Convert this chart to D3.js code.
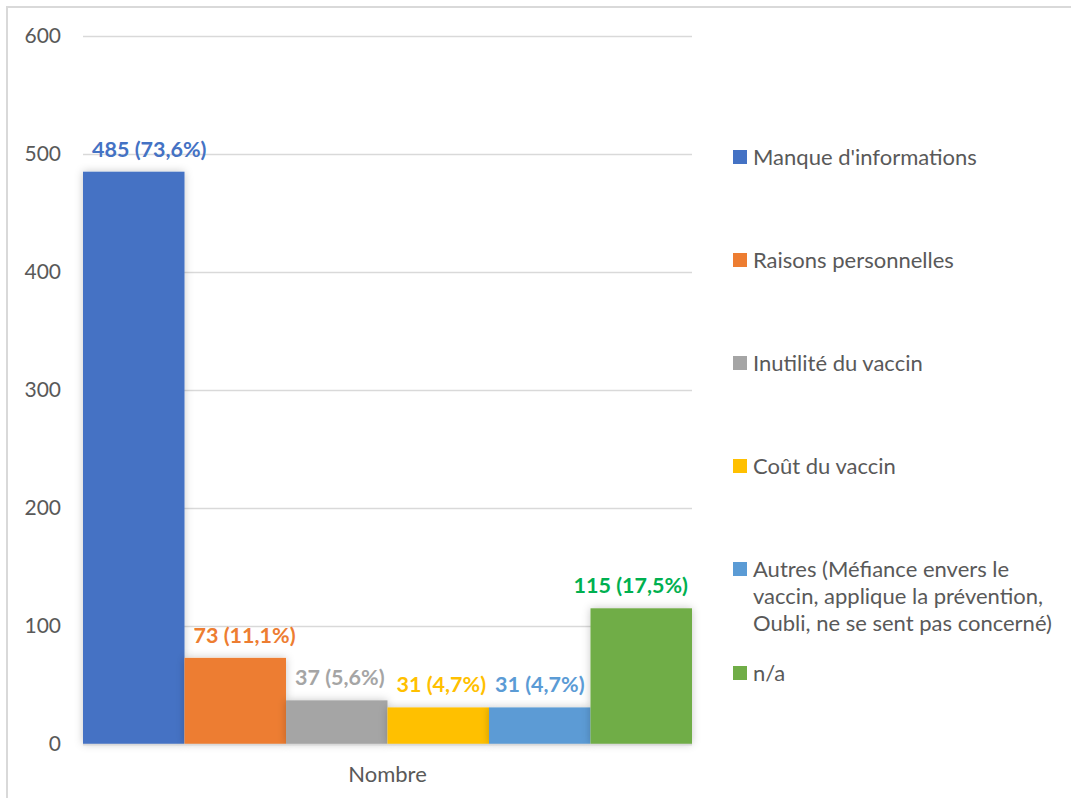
<!DOCTYPE html>
<html>
<head>
<meta charset="utf-8">
<script src="https://cdn.jsdelivr.net/npm/d3@7"></script>
<style>
  body { margin: 0; background: #fff; }
  text { font-family: Lato, "Open Sans", sans-serif; }
</style>
</head>
<body>
<div id="chart"></div>
<script>
var categories = ["Manque d'informations", "Raisons personnelles", "Inutilité du vaccin",
    "Coût du vaccin", "Autres (Méfiance envers le vaccin, applique la prévention, Oubli, ne se sent pas concerné)", "n/a"];
var values = [485, 73, 37, 31, 31, 115];
var percents = ["73,6%", "11,1%", "5,6%", "4,7%", "4,7%", "17,5%"];
var colors = ["#4472c4", "#ed7d31", "#a5a5a5", "#ffc000", "#5b9bd5", "#70ad47"];
var labelColors = ["#4472c4", "#ed7d31", "#a5a5a5", "#ffc000", "#5b9bd5", "#00b050"];
var legendLines = [["Manque d'informations"], ["Raisons personnelles"], ["Inutilité du vaccin"],
    ["Coût du vaccin"], ["Autres (Méfiance envers le", "vaccin, applique la prévention,", "Oubli, ne se sent pas concerné)"], ["n/a"]];
var yTicks = [0, 100, 200, 300, 400, 500, 600];
var groupLabel = "Nombre";

var W = 1071, H = 798;
var plot = {x0: 83, x1: 692, y0: 744, y1: 36};

var svg = d3.select("#chart").append("svg").attr("width", W).attr("height", H);

// outer border
svg.append("rect").attr("x", 7).attr("y", 7).attr("width", W + 10).attr("height", H + 10)
    .attr("fill", "none").attr("stroke", "#d9d9d9").attr("stroke-width", 2);

var defs = svg.append("defs");
var f = defs.append("filter").attr("id", "shadow").attr("x", "-20%").attr("y", "-20%").attr("width", "140%").attr("height", "140%");
f.append("feDropShadow").attr("dx", 0).attr("dy", 0).attr("stdDeviation", 4)
    .attr("flood-color", "#000").attr("flood-opacity", 0.22);

var y = d3.scaleLinear().domain([0, 600]).range([plot.y0, plot.y1]);
var x = d3.scaleBand().domain(categories).range([plot.x0, plot.x1]).padding(0);

// gridlines
svg.append("g").selectAll("line").data(yTicks).join("line")
    .attr("x1", plot.x0).attr("x2", plot.x1)
    .attr("y1", function(d) { return Math.round(y(d)) + 0.5; })
    .attr("y2", function(d) { return Math.round(y(d)) + 0.5; })
    .attr("stroke", "#d9d9d9").attr("stroke-width", 1.5);

// y axis labels
var yAxis = d3.axisLeft(y).tickValues(yTicks).tickSize(0).tickPadding(0);
var ya = svg.append("g").attr("transform", "translate(61,0)").call(yAxis);
ya.select(".domain").remove();
ya.selectAll("text").attr("font-size", 21).attr("fill", "#595959")
    .attr("font-family", "Lato, 'Open Sans', sans-serif");

// bars
svg.append("g").selectAll("rect").data(values).join("rect")
    .attr("x", function(d, i) { return x(categories[i]); })
    .attr("y", function(d) { return y(d); })
    .attr("width", x.bandwidth())
    .attr("height", function(d) { return plot.y0 - y(d); })
    .attr("fill", function(d, i) { return colors[i]; })
    .attr("filter", "url(#shadow)");

// axis line
svg.append("line").attr("x1", plot.x0).attr("x2", plot.x1).attr("y1", plot.y0 + 0.5).attr("y2", plot.y0 + 0.5)
    .attr("stroke", "#d9d9d9").attr("stroke-width", 1.5);

// data labels, kept clear of taller neighbours / plot edges
var labels = svg.append("g").selectAll("text").data(values).join("text")
    .attr("y", function(d) { return y(d) - 15; })
    .attr("font-size", 21.5).attr("font-weight", "bold")
    .attr("fill", function(d, i) { return labelColors[i]; })
    .attr("text-anchor", "middle")
    .text(function(d, i) { return d + " (" + percents[i] + ")"; });

labels.each(function(d, i) {
    var w = this.getComputedTextLength();
    var bx0 = x(categories[i]), bx1 = bx0 + x.bandwidth();
    var cx = bx0 + x.bandwidth() / 2;
    var leftBlocked = i === 0 || values[i - 1] > d;
    var rightBlocked = i === values.length - 1 || values[i + 1] > d;
    if (leftBlocked && cx - w / 2 < bx0 + 9) cx = bx0 + 9 + w / 2;
    if (rightBlocked && cx + w / 2 > bx1 - 4) cx = bx1 - 4 - w / 2;
    d3.select(this).attr("x", cx);
});

// category label
svg.append("text").attr("x", (plot.x0 + plot.x1) / 2).attr("y", 782)
    .attr("text-anchor", "middle").attr("font-size", 22).attr("fill", "#595959").text(groupLabel);

// legend
var legendY = [157, 260, 363, 466, 569, 673];
var lg = svg.append("g").selectAll("g").data(legendLines).join("g")
    .attr("transform", function(d, i) { return "translate(733," + legendY[i] + ")"; });
lg.append("rect").attr("x", 0).attr("y", -7).attr("width", 14).attr("height", 14)
    .attr("fill", function(d, i) { return colors[i]; });
lg.append("text").attr("font-size", 22).attr("fill", "#595959")
    .selectAll("tspan").data(function(d) { return d; }).join("tspan")
    .attr("x", 20).attr("y", function(d, j) { return j * 27; }).attr("dy", "0.35em")
    .text(function(d) { return d; });
</script>
</body>
</html>
